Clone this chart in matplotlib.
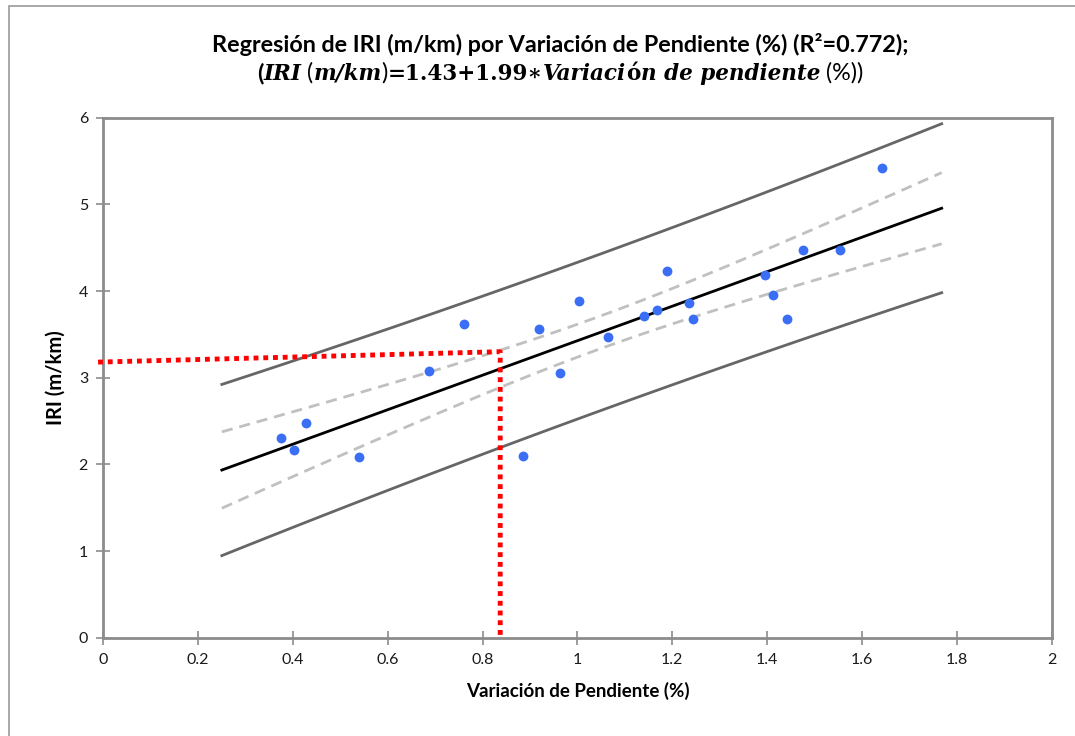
import numpy as np
import matplotlib
matplotlib.use("Agg")
import matplotlib.pyplot as plt
from matplotlib.patches import Rectangle

# data
pendiente = [0.375, 0.402, 0.428, 0.539, 0.687, 0.761, 0.885, 0.919, 0.963, 1.003, 1.064,
             1.140, 1.168, 1.189, 1.235, 1.244, 1.395, 1.412, 1.442, 1.475, 1.553, 1.642]
iri = [2.30, 2.17, 2.48, 2.08, 3.08, 3.62, 2.10, 3.56, 3.06, 3.88, 3.47,
       3.71, 3.78, 4.23, 3.86, 3.68, 4.18, 3.95, 3.68, 4.47, 4.47, 5.42]

fit_range = [0.25, 1.768]
guide_x = [-0.011, 0.837, 0.837]
guide_y = [3.18, 3.30, 0.0]

xticks = [0, 0.2, 0.4, 0.6, 0.8, 1, 1.2, 1.4, 1.6, 1.8, 2]
xticklabels = ["0", "0.2", "0.4", "0.6", "0.8", "1", "1.2", "1.4", "1.6", "1.8", "2"]
yticks = [0, 1, 2, 3, 4, 5, 6]

# regression with confidence and prediction bands
x = np.array(pendiente)
y = np.array(iri)
n = len(x)
b1, b0 = np.polyfit(x, y, 1)
resid = y - (b0 + b1 * x)
s = np.sqrt(np.sum(resid ** 2) / (n - 2))
t = 2.086
sxx = np.sum((x - x.mean()) ** 2)
xs = np.linspace(fit_range[0], fit_range[1], 100)
yfit = b0 + b1 * xs
conf = t * s * np.sqrt(1 / n + (xs - x.mean()) ** 2 / sxx)
pred = t * s * np.sqrt(1 + 1 / n + (xs - x.mean()) ** 2 / sxx)

plt.rcParams['font.family'] = ['Lato', 'DejaVu Sans']

fig = plt.figure(figsize=(10.75, 7.36), dpi=100)
ax = fig.add_axes([103.3 / 1075, 1 - 637.7 / 736, 948.4 / 1075, 520 / 736])

spine_c = "#8c8c8c"
ax.plot(xs, yfit + pred, color="#666666", lw=2)
ax.plot(xs, yfit - pred, color="#666666", lw=2)
ax.plot(xs, yfit + conf, color="#c0c0c0", lw=2, ls=(0, (4, 2.5)))
ax.plot(xs, yfit - conf, color="#c0c0c0", lw=2, ls=(0, (4, 2.5)))
ax.plot(xs, yfit, color="black", lw=2)
ax.scatter(x, y, s=50, color="#3a6ff5", zorder=5, linewidths=0)
ax.plot(guide_x, guide_y, color="#ff0000", lw=3.5, ls=(0, (1, 1)), clip_on=False, zorder=6)

ax.set_xlim(0, 2)
ax.set_ylim(0, 6)
ax.set_xticks(xticks)
ax.set_xticklabels(xticklabels)
ax.set_yticks(yticks)
for sp in ax.spines.values():
    sp.set_color(spine_c)
    sp.set_linewidth(2)
ax.tick_params(direction="inout", length=10, width=1.2, color=spine_c,
               labelsize=11.5, labelcolor="#1a1a1a", pad=6)

ax.set_xlabel("Variación de Pendiente (%)", fontsize=13.5, fontweight="bold", labelpad=11)
ax.set_ylabel("IRI (m/km)", fontsize=14.5, fontweight="bold", labelpad=9)

fig.text(560 / 1075, 1 - 45 / 736, "Regresión de IRI (m/km) por Variación de Pendiente (%) (R²=0.772);",
         ha="center", va="center", fontsize=16.8, fontweight="bold")

# second title line built from pieces with different styles
serif_bi = dict(family="DejaVu Serif", style="italic", weight="bold", fontsize=15.5)
serif_b = dict(family="DejaVu Serif", weight="bold", fontsize=15.5)
sans_b = dict(weight="bold", fontsize=16.8)
sans_r = dict(fontsize=16.8)
pieces = [("(", sans_b), ("IRI", serif_bi), (" (", sans_r), ("m/km", serif_bi), (")", sans_r),
          ("=1.43+1.99∗", serif_b), ("Variaci", serif_bi), ("ó", serif_b), ("n de pendiente", serif_bi),
          (" (%))", sans_r)]

r = fig.canvas.get_renderer()
texts = []
for txt, style in pieces:
    tt = fig.text(0, 0, txt, ha="left", va="baseline", **style)
    texts.append(tt)
# lay out horizontally
widths = [tt.get_window_extent(r).width for tt in texts]
total = sum(widths)
x0 = 560 - total / 2
for tt, w in zip(texts, widths):
    tt.set_position((x0 / 1075, 1 - 80 / 736))
    x0 += w

fig.patches.append(Rectangle((9 / 1075, -0.1), 1.2, (1 - 6 / 736) + 0.1, transform=fig.transFigure,
                             fill=False, edgecolor="#999999", lw=1.2))

fig.savefig("out.png", dpi=100)
